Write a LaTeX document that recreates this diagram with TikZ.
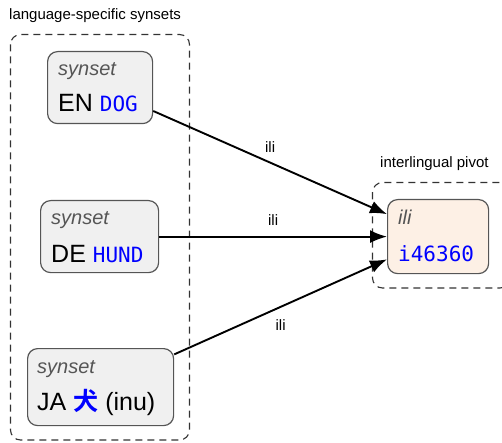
\documentclass[tikz,border=0pt]{standalone}
\usepackage{fontspec}
\setmainfont{Liberation Sans}
\newfontfamily\monof{DejaVu Sans Mono}
\newfontfamily\cjkf{Noto Sans CJK JP}[BoldFont={* Bold}]
\usetikzlibrary{arrows.meta}
\definecolor{boxgrey}{HTML}{F0F0F0}
\definecolor{boxline}{HTML}{555555}
\definecolor{peach}{HTML}{FDF0E5}
\definecolor{dashc}{HTML}{333333}
\definecolor{labgrey}{HTML}{555555}
\definecolor{wblue}{HTML}{0000FF}
\tikzset{
  synbox/.style={draw=boxline, fill=boxgrey, line width=1.2pt, rounded corners=10pt, anchor=north west, inner sep=0pt},
  ilibox/.style={draw=boxline, fill=peach, line width=1.2pt, rounded corners=10pt, anchor=north west, inner sep=0pt},
  group/.style={draw=dashc, line width=1.1pt, dash pattern=on 7pt off 5pt, rounded corners=10pt},
  ttl/.style={font=\fontsize{15}{17}\selectfont, anchor=base west, inner sep=0pt},
  small/.style={font=\fontsize{20}{22}\selectfont\itshape, text=labgrey, anchor=base west, inner sep=0pt},
  big/.style={font=\fontsize{25}{28}\selectfont, anchor=base west, inner sep=0pt},
  word/.style={font=\fontsize{21}{24}\selectfont\monof, text=wblue},
  rel/.style={line width=1.9pt, -{Latex[length=17pt,width=13pt]}},
  lab/.style={font=\fontsize{15}{17}\selectfont, inner sep=0pt}
}
\begin{document}
\begin{tikzpicture}[x=1pt,y=-1pt]
\useasboundingbox (0,0) rectangle (502,443);
% group frames
\draw[group] (10.5,34.5) rectangle (189.5,440);
\draw[group] (372.5,182.5) rectangle (510,288);
\node[ttl] (t1) at (9,20) {language-specific synsets};
\node[ttl] (t2) at (380,168) {interlingual pivot};
% boxes
\node[synbox, minimum width=105pt, minimum height=72pt] (en) at (47,51) {};
\node[synbox, minimum width=118pt, minimum height=72pt] (de) at (40,200) {};
\node[synbox, minimum width=146pt, minimum height=77pt] (ja) at (27,348) {};
\node[ilibox, minimum width=101pt, minimum height=74pt] (ili) at (387,199) {};
% texts
\node[small] (en1) at (58,76) {synset};
\node[big] (en2) at (58,112) {EN \textcolor{wblue}{\fontsize{21}{24}\selectfont\monof DOG}};
\node[small] (de1) at (51,225) {synset};
\node[big] (de2) at (51,262) {DE \textcolor{wblue}{\fontsize{21}{24}\selectfont\monof HUND}};
\node[small] (ja1) at (37,373) {synset};
\node[big] (ja2) at (37,410) {JA \textcolor{wblue}{\cjkf\bfseries 犬} (inu)};
\node[small] (il1) at (398,225) {ili};
\node[word, anchor=base west, inner sep=0pt] (il2) at (398,261) {i46360};
% connectors
\draw[rel] (en) -- (ili) node[lab, midway, above=9pt] {ili};
\draw[rel] (de) -- (ili) node[lab, midway, above=10pt] {ili};
\draw[rel] (ja) -- (ili) node[lab, midway, below=12pt] {ili};
\end{tikzpicture}
\end{document}
